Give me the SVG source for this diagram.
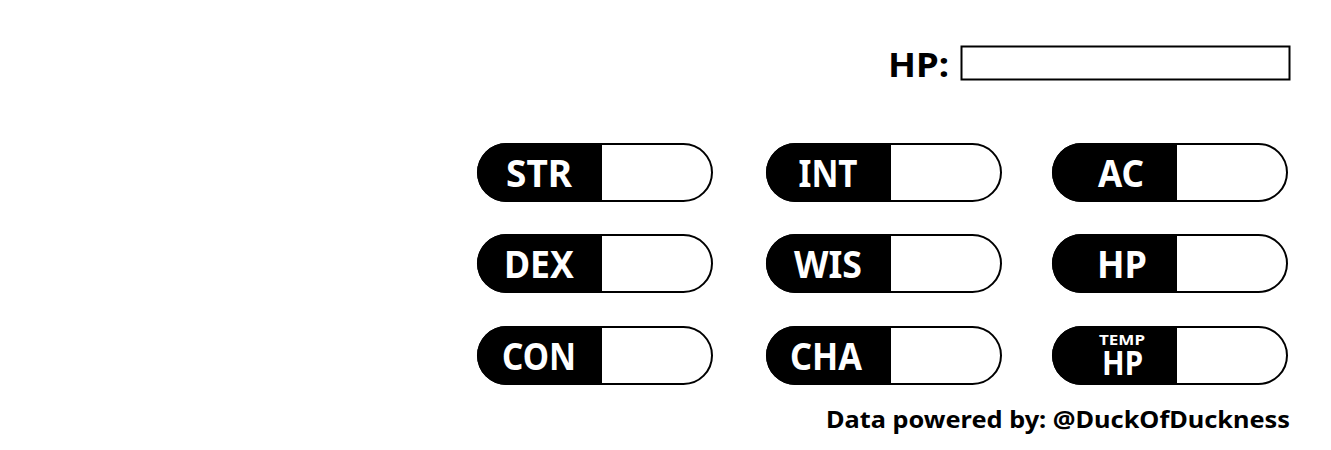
<svg xmlns="http://www.w3.org/2000/svg" width="1331" height="450" viewBox="0 0 1331 450">
<style>
.pill{fill:#fff;stroke:#000;stroke-width:2}
.cap{fill:#000}
.lbl{font-family:"Noto Sans","Liberation Sans",sans-serif;font-weight:700;font-size:37px;fill:#fff;text-anchor:middle}
.small{font-size:14px}
.dark{font-family:"Noto Sans","Liberation Sans",sans-serif;font-weight:700;fill:#000}
</style>
<defs>
<g id="pillshape">
<rect class="pill" x="1" y="1" width="234" height="57" rx="28.5"/>
<path class="cap" d="M125,0 H29.5 A29.5,29.5 0 0 0 29.5,59 H125 Z"/>
</g>
</defs>
<rect width="1331" height="450" fill="#fff"/>
<g id="hp-header">
<text class="dark" x="888" y="77" font-size="34" textLength="61" lengthAdjust="spacingAndGlyphs">HP:</text>
<rect x="961.5" y="46.5" width="328" height="33" fill="#fff" stroke="#000" stroke-width="2"/>
</g>
<g id="str" transform="translate(477,143)"><use href="#pillshape"/><text class="lbl" x="62" y="44" textLength="66" lengthAdjust="spacingAndGlyphs">STR</text></g>
<g id="int" transform="translate(766,143)"><use href="#pillshape"/><text class="lbl" x="62" y="44" textLength="59" lengthAdjust="spacingAndGlyphs">INT</text></g>
<g id="ac" transform="translate(1052,143)"><use href="#pillshape"/><text class="lbl" x="69" y="44" textLength="46" lengthAdjust="spacingAndGlyphs">AC</text></g>
<g id="dex" transform="translate(477,234)"><use href="#pillshape"/><text class="lbl" x="62" y="44" textLength="70" lengthAdjust="spacingAndGlyphs">DEX</text></g>
<g id="wis" transform="translate(766,234)"><use href="#pillshape"/><text class="lbl" x="62" y="44" textLength="68" lengthAdjust="spacingAndGlyphs">WIS</text></g>
<g id="hp" transform="translate(1052,234)"><use href="#pillshape"/><text class="lbl" x="70" y="44" textLength="50" lengthAdjust="spacingAndGlyphs">HP</text></g>
<g id="con" transform="translate(477,326)"><use href="#pillshape"/><text class="lbl" x="62" y="44" textLength="74" lengthAdjust="spacingAndGlyphs">CON</text></g>
<g id="cha" transform="translate(766,326)"><use href="#pillshape"/><text class="lbl" x="60" y="44" textLength="72" lengthAdjust="spacingAndGlyphs">CHA</text></g>
<g id="temphp" transform="translate(1052,326)"><use href="#pillshape"/>
<text class="lbl"><tspan class="small" x="70" y="19" textLength="46" lengthAdjust="spacingAndGlyphs">TEMP</tspan><tspan x="70.5" y="49" font-size="34" textLength="41" lengthAdjust="spacingAndGlyphs">HP</tspan></text></g>
<g id="credit"><text class="dark" x="826" y="428" font-size="24" textLength="464" lengthAdjust="spacingAndGlyphs">Data powered by: @DuckOfDuckness</text></g>
</svg>
